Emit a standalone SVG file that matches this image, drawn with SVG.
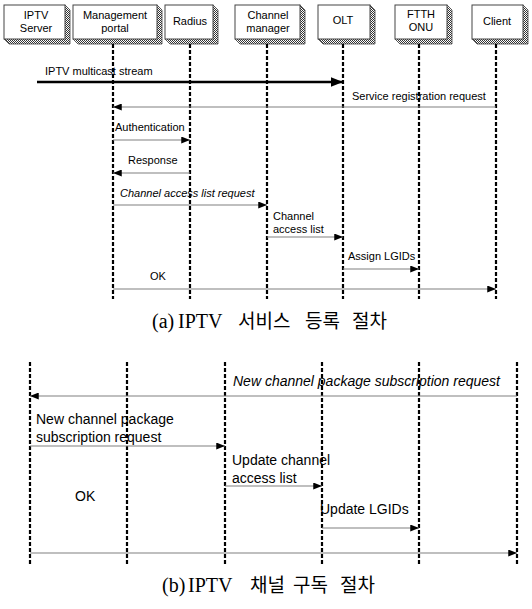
<svg xmlns="http://www.w3.org/2000/svg" width="532" height="609" viewBox="0 0 532 609">
<style>
.bg{fill:#fff}
.box{fill:#fff;stroke:#444;stroke-width:1}
.shadow{fill:url(#hatch);stroke:#444;stroke-width:0.8}
.hd{font-family:"Liberation Sans",Arial,sans-serif;font-size:11px;fill:#000;text-anchor:middle}
.life{stroke:#000;stroke-width:2.2;stroke-dasharray:4,2;fill:none}
.msg{stroke:#808080;stroke-width:1.2;fill:none}
.thick{stroke:#000;stroke-width:2.6;fill:none}
.lbl{font-family:"Liberation Sans",Arial,sans-serif;font-size:11px;fill:#000}
.lbl2{font-family:"Liberation Sans",Arial,sans-serif;font-size:14px;fill:#000}
.it{font-style:italic}
.cap{font-family:"Liberation Serif","Times New Roman","Noto Sans CJK KR",serif;font-size:20px;fill:#000}
.ko{font-family:"Noto Sans CJK KR","Liberation Serif",serif;font-size:19px}
</style>
<defs>
<pattern id="hatch" width="2" height="2" patternUnits="userSpaceOnUse">
<rect width="2" height="2" fill="#fff"/>
<rect width="1" height="1" fill="#333"/>
<rect x="1" y="1" width="1" height="1" fill="#333"/>
</pattern>
<marker id="ah" viewBox="0 0 10 8" refX="10" refY="4" markerWidth="9" markerHeight="7" markerUnits="userSpaceOnUse" orient="auto">
<path d="M0,0 L10,4 L0,8 Z" fill="#000"/>
</marker>
<marker id="ahb" viewBox="0 0 10 8" refX="10" refY="4" markerWidth="12" markerHeight="10" markerUnits="userSpaceOnUse" orient="auto">
<path d="M0,0 L10,4 L0,8 Z" fill="#000"/>
</marker>
</defs>
<rect class="bg" width="532" height="609"/>

<!-- Part (a) nodes -->
<g id="iptv-server">
<polygon class="shadow" points="65,5 70,10 70,44 9,44 4,39"/>
<rect class="box" x="4" y="5" width="61" height="34"/>
<text class="hd" x="36" y="19">IPTV</text>
<text class="hd" x="36" y="32">Server</text>
</g>
<g id="management-portal">
<polygon class="shadow" points="157,5 162,10 162,44 78,44 73,39"/>
<rect class="box" x="73" y="5" width="84" height="34"/>
<text class="hd" x="115" y="19">Management</text>
<text class="hd" x="115" y="32">portal</text>
<line class="life" x1="113" y1="44" x2="113" y2="299"/>
</g>
<g id="radius">
<polygon class="shadow" points="213,5 218,10 218,44 170,44 165,39"/>
<rect class="box" x="165" y="5" width="48" height="34"/>
<text class="hd" x="190" y="25">Radius</text>
<line class="life" x1="190" y1="44" x2="190" y2="299"/>
</g>
<g id="channel-manager">
<polygon class="shadow" points="300,5 305,10 305,44 240,44 235,39"/>
<rect class="box" x="235" y="5" width="65" height="34"/>
<text class="hd" x="268" y="19">Channel</text>
<text class="hd" x="268" y="32">manager</text>
<line class="life" x1="267" y1="44" x2="267" y2="299"/>
</g>
<g id="olt">
<polygon class="shadow" points="370,5 375,10 375,44 323,44 318,39"/>
<rect class="box" x="318" y="5" width="52" height="34"/>
<text class="hd" x="343" y="24">OLT</text>
<line class="life" x1="343" y1="44" x2="343" y2="299"/>
</g>
<g id="ftth-onu">
<polygon class="shadow" points="447,5 452,10 452,44 400,44 395,39"/>
<rect class="box" x="395" y="5" width="52" height="34"/>
<text class="hd" x="421" y="18">FTTH</text>
<text class="hd" x="421" y="31">ONU</text>
<line class="life" x1="419" y1="44" x2="419" y2="299"/>
</g>
<g id="client">
<polygon class="shadow" points="523,5 528,10 528,44 477,44 472,39"/>
<rect class="box" x="472" y="5" width="51" height="34"/>
<text class="hd" x="497" y="25">Client</text>
<line class="life" x1="496" y1="44" x2="496" y2="299"/>
</g>

<!-- Part (a) connectors -->
<g id="connectors-a">
<line class="thick" x1="37" y1="82" x2="343" y2="82" marker-end="url(#ahb)"/>
<text class="lbl" x="45" y="75">IPTV multicast stream</text>
<line class="msg" x1="496" y1="107" x2="113" y2="107" marker-end="url(#ah)"/>
<text class="lbl" x="352" y="100">Service registration request</text>
<line class="msg" x1="113" y1="140" x2="190" y2="140" marker-end="url(#ah)"/>
<text class="lbl" x="115" y="131">Authentication</text>
<line class="msg" x1="190" y1="173" x2="113" y2="173" marker-end="url(#ah)"/>
<text class="lbl" x="128" y="164">Response</text>
<line class="msg" x1="113" y1="205" x2="267" y2="205" marker-end="url(#ah)"/>
<text class="lbl it" x="120" y="197">Channel access list request</text>
<line class="msg" x1="267" y1="237" x2="343" y2="237" marker-end="url(#ah)"/>
<text class="lbl" x="273" y="220">Channel</text>
<text class="lbl" x="273" y="233">access list</text>
<line class="msg" x1="343" y1="269" x2="419" y2="269" marker-end="url(#ah)"/>
<text class="lbl" x="348" y="260">Assign LGIDs</text>
<line class="msg" x1="113" y1="289" x2="496" y2="289" marker-end="url(#ah)"/>
<text class="lbl" x="150" y="280">OK</text>
</g>

<text class="cap" y="328"><tspan x="152">(a)</tspan><tspan x="178">IPTV</tspan><tspan class="ko" x="238">서비스</tspan><tspan class="ko" x="305">등록</tspan><tspan class="ko" x="352">절차</tspan></text>

<!-- Part (b) lifelines -->
<g id="lifelines-b">
<line class="life" x1="30" y1="362" x2="30" y2="566"/>
<line class="life" x1="127" y1="362" x2="127" y2="566"/>
<line class="life" x1="225" y1="362" x2="225" y2="566"/>
<line class="life" x1="322" y1="362" x2="322" y2="566"/>
<line class="life" x1="419" y1="362" x2="419" y2="566"/>
<line class="life" x1="517" y1="362" x2="517" y2="566"/>
</g>

<!-- Part (b) connectors -->
<g id="connectors-b">
<line class="msg" x1="517" y1="396" x2="30" y2="396" marker-end="url(#ah)"/>
<text class="lbl2 it" x="233" y="386">New channel package subscription request</text>
<line class="msg" x1="30" y1="446" x2="225" y2="446" marker-end="url(#ah)"/>
<text class="lbl2" x="36" y="424">New channel package</text>
<text class="lbl2" x="36" y="442">subscription request</text>
<line class="msg" x1="225" y1="486" x2="322" y2="486" marker-end="url(#ah)"/>
<text class="lbl2" x="232" y="465">Update channel</text>
<text class="lbl2" x="232" y="483">access list</text>
<line class="msg" x1="322" y1="528" x2="419" y2="528" marker-end="url(#ah)"/>
<text class="lbl2" x="320" y="514">Update LGIDs</text>
<line class="msg" x1="30" y1="553" x2="517" y2="553" marker-end="url(#ah)"/>
<text class="lbl2" x="75" y="501">OK</text>
</g>

<text class="cap" y="592"><tspan x="162">(b)</tspan><tspan x="188">IPTV</tspan><tspan class="ko" x="250">채널</tspan><tspan class="ko" x="293">구독</tspan><tspan class="ko" x="340">절차</tspan></text>
</svg>
